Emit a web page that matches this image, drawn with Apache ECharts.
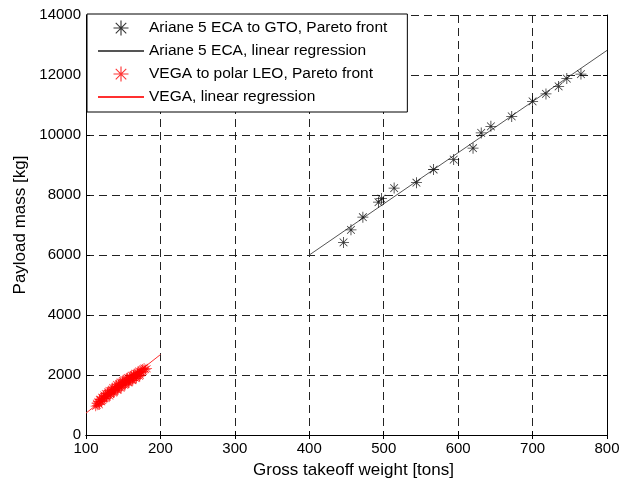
<!DOCTYPE html>
<html>
<head>
<meta charset="utf-8">
<script src="https://cdn.jsdelivr.net/npm/echarts@6/dist/echarts.min.js"></script>
<style>html,body{margin:0;padding:0;background:#fff;}#c{width:636px;height:484px;}</style>
</head>
<body>
<div id="c"></div>
<script>
const xTicks = [100, 200, 300, 400, 500, 600, 700, 800];
const yTicks = [0, 2000, 4000, 6000, 8000, 10000, 12000, 14000];
const arianeWeight = [446, 456, 472, 493, 497, 514, 544, 567, 594, 620, 631, 644, 672, 700, 718, 735, 746, 765];
const arianePayload = [6420, 6840, 7260, 7760, 7880, 8230, 8410, 8850, 9180, 9560, 10070, 10290, 10620, 11120, 11370, 11620, 11880, 12030];
const arianeFitX = [400, 800];
const arianeFitY = [6000, 12820];
const vegaWeight = [113, 114, 115, 116, 117, 118, 119, 120, 121, 122, 123, 124, 125, 126, 127, 128, 129, 130, 131, 132, 133, 134, 135, 136, 137, 138, 139, 140, 141, 142, 143, 144, 145, 146, 147, 148, 149, 150, 151, 152, 153, 154, 155, 156, 157, 158, 159, 160, 161, 162, 163, 164, 165, 166, 167, 168, 169, 170, 171, 172, 173, 174, 175, 176, 177, 178, 180, 182, 118, 124, 129, 134, 139, 144, 149, 154, 159, 164, 169, 174, 121, 127, 132, 137, 142, 147, 152, 157, 162, 167, 172];
const vegaPayload = [960, 1060, 990, 1120, 1050, 1010, 1190, 1120, 1260, 1150, 1230, 1330, 1210, 1380, 1300, 1260, 1430, 1340, 1480, 1390, 1350, 1520, 1440, 1580, 1470, 1420, 1620, 1530, 1680, 1560, 1500, 1720, 1610, 1770, 1650, 1590, 1810, 1700, 1850, 1730, 1680, 1880, 1760, 1920, 1800, 1740, 1950, 1840, 1990, 1870, 1820, 2020, 1920, 2060, 1950, 1900, 2090, 2000, 2130, 2030, 1990, 2170, 2080, 2200, 2120, 2230, 2180, 2210, 1180, 1280, 1380, 1460, 1560, 1660, 1750, 1840, 1920, 1990, 2040, 2110, 1110, 1220, 1300, 1400, 1500, 1560, 1660, 1740, 1820, 1880, 1960];
const vegaFitX = [100, 200];
const vegaFitY = [730, 2680];

const star = 'path://M-0.75,-10L0.75,-10L0.75,10L-0.75,10Z M-10,-0.75L10,-0.75L10,0.75L-10,0.75Z M-6.5,-7.5L7.5,6.5L6.5,7.5L-7.5,-6.5Z M6.5,-7.5L7.5,-6.5L-6.5,7.5L-7.5,6.5Z';
const zip = (a, b) => a.map((v, i) => [v, b[i]]);
const font = '"Liberation Sans", Arial, sans-serif';

const chart = echarts.init(document.getElementById('c'), null, {renderer: 'canvas'});
const axisCommon = {
  axisLine: {show: true, lineStyle: {color: '#000', width: 1}},
  axisTick: {show: true, inside: true, length: 4, lineStyle: {color: '#000'}},
};
const gridLine = {show: true, lineStyle: {color: '#222', type: [8, 5], width: 1}};
chart.setOption({
  animation: false,
  backgroundColor: '#fff',
  grid: {left: 86, right: 29, top: 15, bottom: 47, containLabel: false},
  legend: {
    orient: 'vertical', left: 87, top: 14,
    backgroundColor: '#fff', borderColor: '#000', borderWidth: 1,
    padding: [6, 20, 7, 10], itemGap: 7, itemWidth: 46, itemHeight: 15,
    textStyle: {fontFamily: font, fontSize: 15.5, color: '#000'},
    data: [
      {name: 'Ariane 5 ECA to GTO, Pareto front'},
      {name: 'Ariane 5 ECA, linear regression', itemStyle: {color: 'transparent', borderColor: 'transparent'}},
      {name: 'VEGA to polar LEO, Pareto front'},
      {name: 'VEGA, linear regression', itemStyle: {color: 'transparent', borderColor: 'transparent'}}
    ]
  },
  xAxis: [
    Object.assign({type: 'value', min: 100, max: 800, interval: 100, position: 'bottom',
      name: 'Gross takeoff weight [tons]', nameLocation: 'middle', nameGap: 27,
      nameTextStyle: {fontFamily: font, fontSize: 17, color: '#000', padding: [0, 0, 0, 14]},
      axisLabel: {fontFamily: font, fontSize: 15, color: '#000', margin: 6},
      splitLine: gridLine}, axisCommon),
    Object.assign({type: 'value', min: 100, max: 800, interval: 100, position: 'top',
      axisLabel: {show: false}, splitLine: {show: false}}, axisCommon)
  ],
  yAxis: [
    Object.assign({type: 'value', min: 0, max: 14000, interval: 2000, position: 'left',
      name: 'Payload mass [kg]', nameLocation: 'middle', nameGap: 53,
      nameTextStyle: {fontFamily: font, fontSize: 17, color: '#000'},
      axisLabel: {fontFamily: font, fontSize: 15, color: '#000', margin: 5, formatter: v => String(v)},
      splitLine: gridLine}, axisCommon),
    Object.assign({type: 'value', min: 0, max: 14000, interval: 2000, position: 'right',
      axisLabel: {show: false}, splitLine: {show: false}}, axisCommon)
  ],
  series: [
    {name: 'Ariane 5 ECA to GTO, Pareto front', type: 'scatter', symbol: star, symbolSize: 11,
      itemStyle: {color: '#000'}, data: zip(arianeWeight, arianePayload), z: 5},
    {name: 'Ariane 5 ECA, linear regression', type: 'line', symbol: 'none',
      lineStyle: {color: '#555', width: 1}, itemStyle: {color: '#555'}, data: zip(arianeFitX, arianeFitY), z: 4},
    {name: 'VEGA to polar LEO, Pareto front', type: 'scatter', symbol: star, symbolSize: 10,
      itemStyle: {color: '#ff0000'}, data: zip(vegaWeight, vegaPayload), z: 5},
    {name: 'VEGA, linear regression', type: 'line', symbol: 'none',
      lineStyle: {color: '#ff3030', width: 1}, itemStyle: {color: '#ff3030'}, data: zip(vegaFitX, vegaFitY), z: 4}
  ]
});
</script>
</body>
</html>
